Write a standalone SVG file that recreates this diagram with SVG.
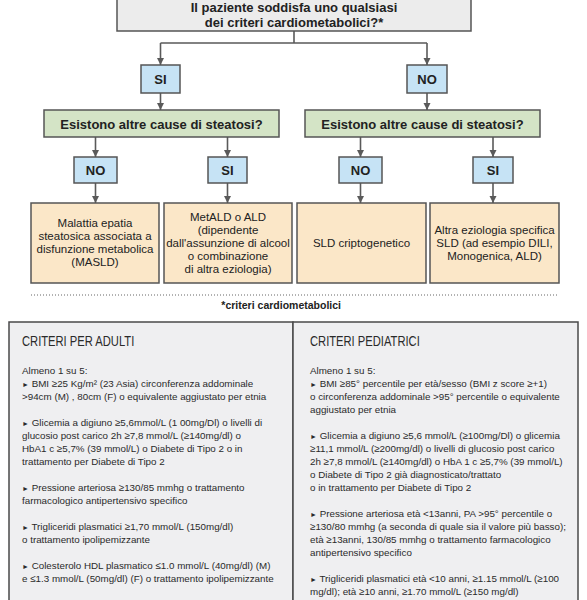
<svg xmlns="http://www.w3.org/2000/svg" width="587" height="600" viewBox="0 0 587 600">
<style>
.b{stroke:#555;stroke-width:1.5}
.top{fill:#ececec}
.yn{fill:#c6e3f5}
.q{fill:#d4e4c6}
.out{fill:#fbe7c8}
.panel{fill:#efeff1;stroke:#4a4a4a;stroke-width:1.5}
.bold{font-family:"Liberation Sans",Arial,sans-serif;font-weight:bold;fill:#222;text-anchor:middle}
.reg{font-family:"Liberation Sans",Arial,sans-serif;fill:#222;text-anchor:middle;font-size:11.5px}
.body{font-family:"Liberation Sans",Arial,sans-serif;fill:#2a2a2a;font-size:9.8px}
.title{font-family:"Liberation Sans",Arial,sans-serif;fill:#2a2a2a;font-size:14px}
.tri{font-size:7px}
.con{stroke:#5a5a5a;stroke-width:1.6;fill:none}
</style>
<defs>
<marker id="ah" markerUnits="userSpaceOnUse" markerWidth="8" markerHeight="8" refX="7" refY="3.5" orient="auto">
<path d="M0,0 L7,3.5 L0,7 z" fill="#5a5a5a"/>
</marker>
</defs>

<g id="connectors">
<path class="con" d="M294,31 V43 M160.5,43 H427"/>
<path class="con" d="M160.5,43 V65" marker-end="url(#ah)"/>
<path class="con" d="M427,43 V65" marker-end="url(#ah)"/>
<path class="con" d="M160.5,93 V110" marker-end="url(#ah)"/>
<path class="con" d="M427,93 V110" marker-end="url(#ah)"/>
<path class="con" d="M95.5,137 V157" marker-end="url(#ah)"/>
<path class="con" d="M227.5,137 V157" marker-end="url(#ah)"/>
<path class="con" d="M360.5,137 V157" marker-end="url(#ah)"/>
<path class="con" d="M493,137 V157" marker-end="url(#ah)"/>
<path class="con" d="M95.5,183 V203" marker-end="url(#ah)"/>
<path class="con" d="M227.5,183 V203" marker-end="url(#ah)"/>
<path class="con" d="M360.5,183 V203" marker-end="url(#ah)"/>
<path class="con" d="M493,183 V203" marker-end="url(#ah)"/>
</g>

<g id="q-top">
<rect class="b top" x="117" y="-2" width="354" height="33"/>
<text class="bold" font-size="13" x="294" y="12">Il paziente soddisfa uno qualsiasi</text>
<text class="bold" font-size="13" x="294" y="27">dei criteri cardiometabolici?*</text>
</g>

<g id="si-1">
<rect class="b yn" x="141" y="65" width="39" height="28"/>
<text class="bold" font-size="13" x="160.5" y="83.5">SI</text>
</g>
<g id="no-1">
<rect class="b yn" x="407" y="65" width="40" height="28"/>
<text class="bold" font-size="13" x="427" y="83.5">NO</text>
</g>

<g id="q-left">
<rect class="b q" x="44" y="110" width="235" height="27"/>
<text class="bold" font-size="13" x="161.5" y="128.5">Esistono altre cause di steatosi?</text>
</g>
<g id="q-right">
<rect class="b q" x="305" y="110" width="235" height="27"/>
<text class="bold" font-size="13" x="422.5" y="128.5">Esistono altre cause di steatosi?</text>
</g>

<g id="no-2">
<rect class="b yn" x="74" y="157" width="43" height="26"/>
<text class="bold" font-size="13" x="95.5" y="174.5">NO</text>
</g>
<g id="si-2">
<rect class="b yn" x="208" y="157" width="39" height="26"/>
<text class="bold" font-size="13" x="227.5" y="174.5">SI</text>
</g>
<g id="no-3">
<rect class="b yn" x="339" y="157" width="43" height="26"/>
<text class="bold" font-size="13" x="360.5" y="174.5">NO</text>
</g>
<g id="si-3">
<rect class="b yn" x="473" y="157" width="40" height="26"/>
<text class="bold" font-size="13" x="493" y="174.5">SI</text>
</g>

<g id="out-masld">
<rect class="b out" x="31" y="203" width="128" height="80"/>
<text class="reg" x="95" y="227">Malattia epatia</text>
<text class="reg" x="95" y="240">steatosica associata a</text>
<text class="reg" x="95" y="253">disfunzione metabolica</text>
<text class="reg" x="95" y="266">(MASLD)</text>
</g>
<g id="out-metald">
<rect class="b out" x="164" y="203" width="128" height="80"/>
<text class="reg" x="228" y="221">MetALD o ALD</text>
<text class="reg" x="228" y="234">(dipendente</text>
<text class="reg" x="228" y="247">dall'assunzione di alcool</text>
<text class="reg" x="228" y="260">o combinazione</text>
<text class="reg" x="228" y="273">di altra eziologia)</text>
</g>
<g id="out-crypto">
<rect class="b out" x="297" y="203" width="129" height="80"/>
<text class="reg" x="361.5" y="247">SLD criptogenetico</text>
</g>
<g id="out-other">
<rect class="b out" x="430" y="203" width="129" height="80"/>
<text class="reg" x="494.5" y="234">Altra eziologia specifica</text>
<text class="reg" x="494.5" y="247">SLD (ad esempio DILI,</text>
<text class="reg" x="494.5" y="260">Monogenica, ALD)</text>
</g>

<g id="footnote">
<line x1="31" y1="295" x2="559" y2="295" stroke="#666" stroke-width="1" stroke-dasharray="1,2"/>
<text class="bold" font-size="10.5" x="341" y="309" style="text-anchor:end">*criteri cardiometabolici</text>
</g>

<g id="panel-adulti">
<rect class="panel" x="9" y="322" width="284" height="292"/>
<text class="title" transform="translate(22,346) scale(0.8,1)">CRITERI PER ADULTI</text>
<text class="body" x="22" y="373.5">Almeno 1 su 5:</text>
<text class="body" x="22" y="386.5"><tspan class="tri">►</tspan> BMI ≥25 Kg/m² (23 Asia) circonferenza addominale</text>
<text class="body" x="22" y="399.5">&gt;94cm (M) , 80cm (F) o equivalente aggiustato per etnia</text>
<text class="body" x="22" y="425.5"><tspan class="tri">►</tspan> Glicemia a digiuno ≥5,6mmol/L (1 00mg/Dl) o livelli di</text>
<text class="body" x="22" y="438.5">glucosio post carico 2h ≥7,8 mmol/L (≥140mg/dl) o</text>
<text class="body" x="22" y="451.5">HbA1 c ≥5,7% (39 mmol/L) o Diabete di Tipo 2 o in</text>
<text class="body" x="22" y="464.5">trattamento per Diabete di Tipo 2</text>
<text class="body" x="22" y="490.5"><tspan class="tri">►</tspan> Pressione arteriosa ≥130/85 mmhg o trattamento</text>
<text class="body" x="22" y="503.5">farmacologico antipertensivo specifico</text>
<text class="body" x="22" y="529.5"><tspan class="tri">►</tspan> Trigliceridi plasmatici ≥1,70 mmol/L (150mg/dl)</text>
<text class="body" x="22" y="542.5">o trattamento ipolipemizzante</text>
<text class="body" x="22" y="568.5"><tspan class="tri">►</tspan> Colesterolo HDL plasmatico ≤1.0 mmol/L (40mg/dl) (M)</text>
<text class="body" x="22" y="581.5">e ≤1.3 mmol/L (50mg/dl) (F) o trattamento ipolipemizzante</text>
</g>

<g id="panel-pediatrici">
<rect class="panel" x="293" y="322" width="285" height="292"/>
<text class="title" transform="translate(310,346) scale(0.8,1)">CRITERI PEDIATRICI</text>
<text class="body" x="310" y="373.5">Almeno 1 su 5:</text>
<text class="body" x="310" y="386.5"><tspan class="tri">►</tspan> BMI ≥85° percentile per età/sesso (BMI z score ≥+1)</text>
<text class="body" x="310" y="399.5">o circonferenza addominale &gt;95° percentile o equivalente</text>
<text class="body" x="310" y="412.5">aggiustato per etnia</text>
<text class="body" x="310" y="438.5"><tspan class="tri">►</tspan> Glicemia a digiuno ≥5,6 mmol/L (≥100mg/Dl) o glicemia</text>
<text class="body" x="310" y="451.5">≥11,1 mmol/L (≥200mg/dl) o livelli di glucosio post carico</text>
<text class="body" x="310" y="464.5">2h ≥7,8 mmol/L (≥140mg/dl) o HbA 1 c ≥5,7% (39 mmol/L)</text>
<text class="body" x="310" y="477.5">o Diabete di Tipo 2 già diagnosticato/trattato</text>
<text class="body" x="310" y="490.5">o in trattamento per Diabete di Tipo 2</text>
<text class="body" x="310" y="516.5"><tspan class="tri">►</tspan> Pressione arteriosa età &lt;13anni, PA &gt;95° percentile o</text>
<text class="body" x="310" y="529.5">≥130/80 mmhg (a seconda di quale sia il valore più basso);</text>
<text class="body" x="310" y="542.5">età ≥13anni, 130/85 mmhg o trattamento farmacologico</text>
<text class="body" x="310" y="555.5">antipertensivo specifico</text>
<text class="body" x="310" y="581.5"><tspan class="tri">►</tspan> Trigliceridi plasmatici età &lt;10 anni, ≥1.15 mmol/L (≥100</text>
<text class="body" x="310" y="594.5">mg/dl); età ≥10 anni, ≥1.70 mmol/L (≥150 mg/dl)</text>
</g>
</svg>
